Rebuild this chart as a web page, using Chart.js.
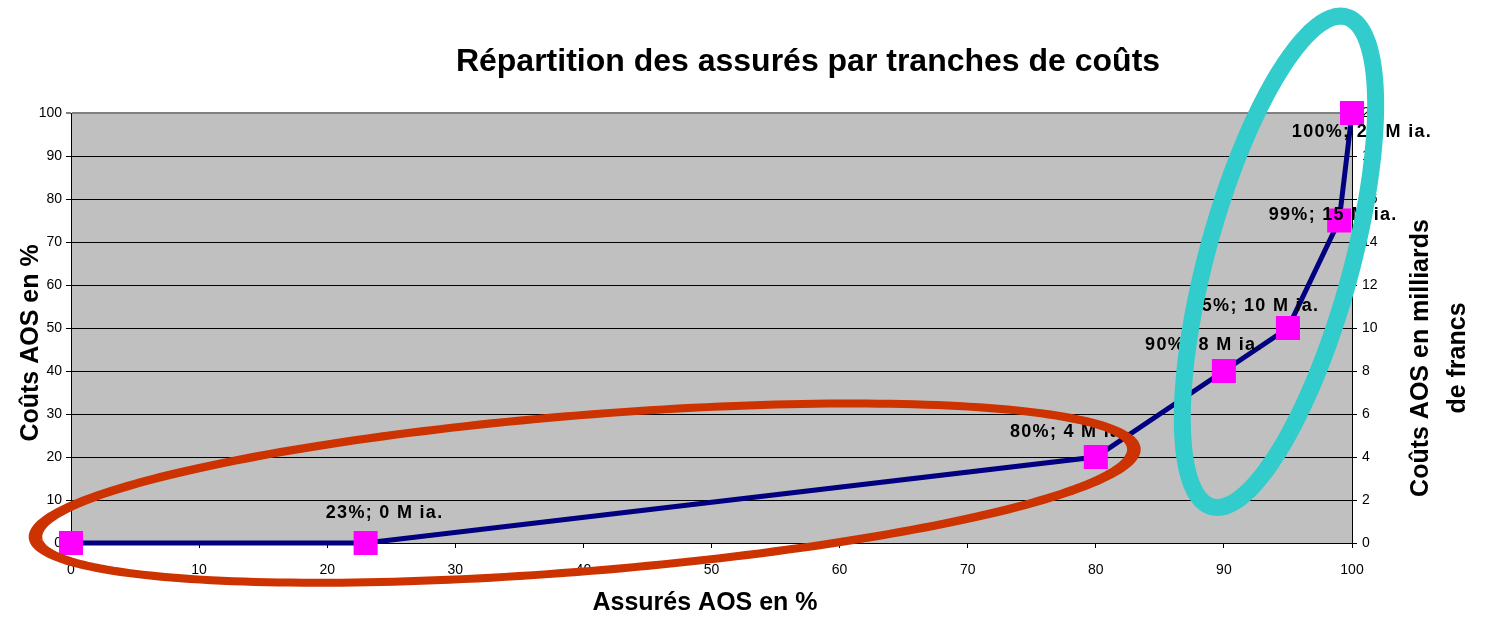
<!DOCTYPE html>
<html>
<head>
<meta charset="utf-8">
<script src="https://cdn.jsdelivr.net/npm/chart.js@4/dist/chart.umd.min.js"></script>
<style>
  html, body { margin: 0; padding: 0; background: #fff; }
  #wrap { width: 1485px; height: 619px; }
</style>
</head>
<body>
<div id="wrap"><canvas id="costChart" width="1485" height="619"></canvas></div>
<script>
// Assurés AOS (%) vs coûts AOS (%)
const insuredPct = [0, 23, 80, 90, 95, 99, 100];
const costPct = [0, 0, 20, 40, 50, 75, 100];
const pointLabels = ['', '23%; 0 M ia.', '80%; 4 M ia.', '90%; 8 M ia.', '95%; 10 M ia.', '99%; 15 M ia.', '100%; 20 M ia.'];

const xTicks = [0, 10, 20, 30, 40, 50, 60, 70, 80, 90, 100];
const yLeftTicks = [0, 10, 20, 30, 40, 50, 60, 70, 80, 90, 100];
const yRightTicks = [0, 2, 4, 6, 8, 10, 12, 14, 16, 18, 20];

const FONT = "Arial, 'Liberation Sans', sans-serif";

// label nudges (px) relative to each point, as placed by hand in the original
const labelOffsets = [[0, 0], [19, -30], [-27, -25], [-20, -26], [-33, -22], [-6, -5], [10, 19]];

// highlight ellipses: centre in data units, radii in px
const highlightRings = [
  { x: 40.1, y: 11.6, rx: 551, ry: 78, angle: -0.081, color: '#CC3300', width: 8, stretch: 1.7 },
  { x: 94.3, y: 65.4, rx: 72, ry: 254, angle: 0.268, color: '#33CCCC', width: 17, stretch: 1 }
];

const chartDecor = {
  id: 'chartDecor',
  beforeDraw(chart) {
    const { ctx, chartArea: a } = chart;
    ctx.save();
    ctx.fillStyle = '#C0C0C0';
    ctx.fillRect(a.left, a.top, a.right - a.left, a.bottom - a.top);
    ctx.restore();
  },
  afterDatasetsDraw(chart) {
    const { ctx } = chart;
    const meta = chart.getDatasetMeta(0);
    ctx.save();
    ctx.font = 'bold 18px ' + FONT;
    ctx.letterSpacing = '1.3px';
    ctx.fillStyle = '#000';
    ctx.textAlign = 'center';
    ctx.textBaseline = 'middle';
    meta.data.forEach((pt, i) => {
      if (!pointLabels[i]) return;
      const [dx, dy] = labelOffsets[i];
      ctx.fillText(pointLabels[i], pt.x + dx, pt.y + dy);
    });
    ctx.restore();
  },
  afterDraw(chart) {
    const { ctx } = chart;
    const xs = chart.scales.x, ys = chart.scales.y;
    ctx.save();
    ctx.fillStyle = '#000';
    ctx.textAlign = 'center';
    ctx.textBaseline = 'middle';
    ctx.font = 'bold 32px ' + FONT;
    ctx.fillText('Répartition des assurés par tranches de coûts', 808, 62);

    ctx.font = 'bold 25px ' + FONT;
    ctx.fillText('Assurés AOS en %', 705, 603);

    ctx.save();
    ctx.translate(31, 343);
    ctx.rotate(-Math.PI / 2);
    ctx.fillText('Coûts AOS en %', 0, 0);
    ctx.restore();

    ctx.save();
    ctx.translate(1421, 358);
    ctx.rotate(-Math.PI / 2);
    ctx.fillText('Coûts AOS en milliards', 0, 0);
    ctx.fillText('de francs', 0, 37);
    ctx.restore();

    // rings drawn on top of everything
    highlightRings.forEach(r => {
      const cx = xs.getPixelForValue(r.x), cy = ys.getPixelForValue(r.y);
      const c = Math.cos(r.angle), s = Math.sin(r.angle);
      ctx.save();
      ctx.scale(r.stretch, 1);
      ctx.beginPath();
      for (let k = 0; k <= 240; k++) {
        const t = k / 240 * Math.PI * 2;
        const ex = r.rx * Math.cos(t), ey = r.ry * Math.sin(t);
        const px = cx + ex * c - ey * s, py = cy + ex * s + ey * c;
        if (k === 0) ctx.moveTo(px / r.stretch, py); else ctx.lineTo(px / r.stretch, py);
      }
      ctx.closePath();
      ctx.strokeStyle = r.color;
      ctx.lineWidth = r.width;
      ctx.stroke();
      ctx.restore();
    });
    ctx.restore();
  }
};

const tickFont = { family: FONT, size: 14 };

new Chart(document.getElementById('costChart'), {
  type: 'line',
  data: {
    datasets: [{
      data: insuredPct.map((x, i) => ({ x: x, y: costPct[i] })),
      borderColor: '#000080',
      borderWidth: 5,
      tension: 0,
      pointStyle: 'rect',
      pointRadius: 17,
      pointHoverRadius: 17,
      pointBackgroundColor: '#FF00FF',
      pointBorderColor: '#FF00FF',
      pointBorderWidth: 0,
      clip: false
    }]
  },
  options: {
    responsive: false,
    animation: false,
    events: [],
    layout: { padding: { top: 113, left: 0, right: 0, bottom: 0 } },
    plugins: { legend: { display: false }, tooltip: { enabled: false } },
    scales: {
      x: {
        type: 'linear', min: 0, max: 100,
        afterBuildTicks: s => { s.ticks = xTicks.map(v => ({ value: v })); },
        afterFit: s => { s.height = 76; },
        ticks: { font: tickFont, color: '#000', padding: 14 },
        grid: { drawOnChartArea: false, tickLength: 5, color: '#000' },
        border: { color: '#000', width: 1 }
      },
      y: {
        position: 'left', min: 0, max: 100,
        afterBuildTicks: s => { s.ticks = yLeftTicks.map(v => ({ value: v })); },
        afterFit: s => { s.width = 71; },
        ticks: { font: tickFont, color: '#000', padding: 4 },
        grid: {
          tickLength: 5,
          color: c => (c.tick && c.tick.value === 100 ? '#808080' : '#000'),
          lineWidth: c => (c.tick && c.tick.value === 100 ? 2 : 1)
        },
        border: { color: '#000', width: 1 }
      },
      y2: {
        position: 'right', min: 0, max: 20,
        afterBuildTicks: s => { s.ticks = yRightTicks.map(v => ({ value: v })); },
        afterFit: s => { s.width = 133; },
        ticks: { font: tickFont, color: '#000', padding: 5 },
        grid: { drawOnChartArea: false, tickLength: 5, color: '#000' },
        border: { color: '#000', width: 1 }
      }
    }
  },
  plugins: [chartDecor]
});
</script>
</body>
</html>
